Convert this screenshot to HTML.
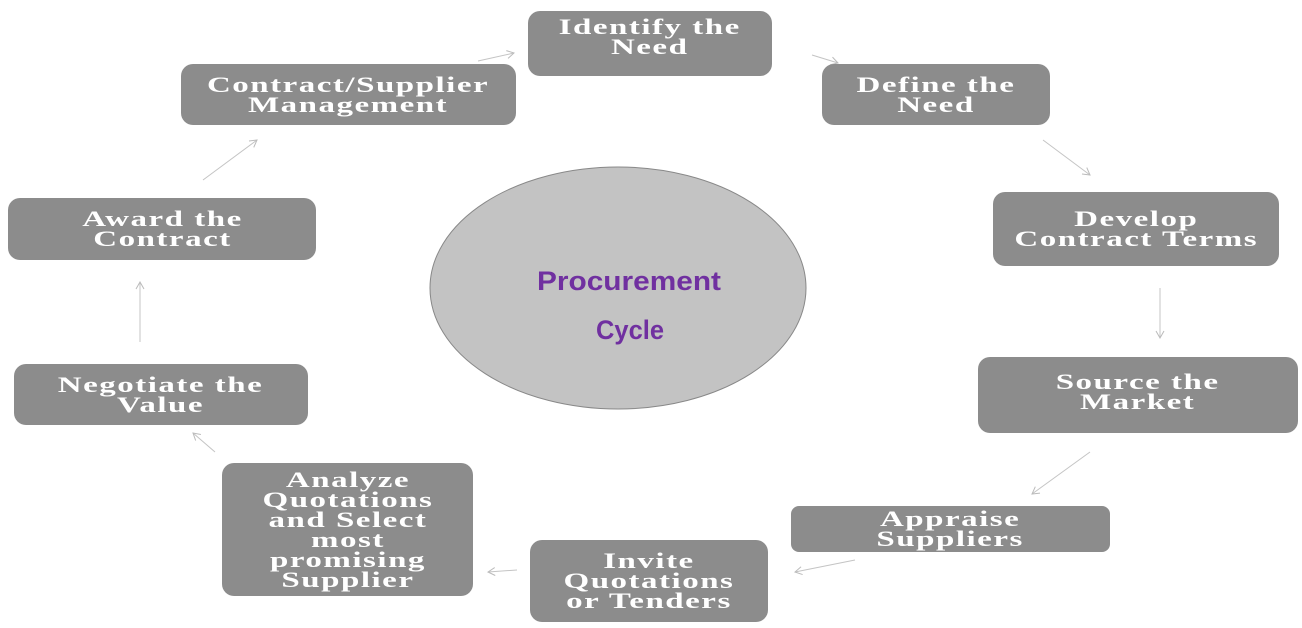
<!DOCTYPE html>
<html><head><meta charset="utf-8"><style>
body{margin:0;width:1302px;height:628px;background:#fff;position:relative;overflow:hidden}
.b{position:absolute;background:#8c8c8c;border-radius:12px;color:#fff;font-family:"Liberation Serif",serif;font-weight:bold;font-size:22px;line-height:20px;letter-spacing:1px;text-align:center;display:flex;align-items:center;justify-content:center;box-sizing:border-box;white-space:nowrap}
.b span{display:inline-block;transform:scaleX(1.5)}
svg{position:absolute;left:0;top:0}
</style></head><body>
<svg width="1302" height="628">
<defs><marker id="a" markerWidth="10" markerHeight="10" refX="8" refY="5" orient="auto" markerUnits="userSpaceOnUse"><path d="M1,1 L8,5 L1,9" fill="none" stroke="#bbb" stroke-width="1"/></marker></defs>
<ellipse cx="618" cy="288" rx="188" ry="121" fill="#c3c3c3" stroke="#888" stroke-width="1"/>
<text x="537" y="290" textLength="184" lengthAdjust="spacingAndGlyphs" font-family="Liberation Sans,sans-serif" font-weight="bold" font-size="27" fill="#7030a0">Procurement</text>
<text x="596" y="339" textLength="68" lengthAdjust="spacingAndGlyphs" font-family="Liberation Sans,sans-serif" font-weight="bold" font-size="27" fill="#7030a0">Cycle</text>
<g stroke="#c4c4c4" stroke-width="1" fill="none" marker-end="url(#a)">
<path d="M478,61 L514,53"/><path d="M812,55 L838,63"/><path d="M1043,140 L1090,175"/>
<path d="M1160,288 L1160,338"/><path d="M1090,452 L1032,494"/><path d="M855,560 L795,572"/>
<path d="M517,570 L488,572"/><path d="M215,452 L193,433"/><path d="M140,342 L140,282"/>
<path d="M203,180 L257,140"/>
</g>
</svg>
<div class="b" style="left:528px;top:11px;width:244px;height:65px;padding-bottom:14px"><span>Identify the<br>Need</span></div>
<div class="b" style="left:181px;top:64px;width:335px;height:61px"><span>Contract/Supplier<br>Management</span></div>
<div class="b" style="left:822px;top:64px;width:228px;height:61px"><span>Define the<br>Need</span></div>
<div class="b" style="left:993px;top:192px;width:286px;height:74px"><span>Develop<br>Contract Terms</span></div>
<div class="b" style="left:8px;top:198px;width:308px;height:62px"><span>Award the<br>Contract</span></div>
<div class="b" style="left:978px;top:357px;width:320px;height:76px;padding-bottom:6px"><span>Source the<br>Market</span></div>
<div class="b" style="left:14px;top:364px;width:294px;height:61px"><span>Negotiate the<br>Value</span></div>
<div class="b" style="left:222px;top:463px;width:251px;height:133px"><span>Analyze<br>Quotations<br>and Select<br>most<br>promising<br>Supplier</span></div>
<div class="b" style="left:791px;top:506px;width:319px;height:46px;border-radius:8px"><span>Appraise<br>Suppliers</span></div>
<div class="b" style="left:530px;top:540px;width:238px;height:82px"><span>Invite<br>Quotations<br>or Tenders</span></div>
</body></html>
